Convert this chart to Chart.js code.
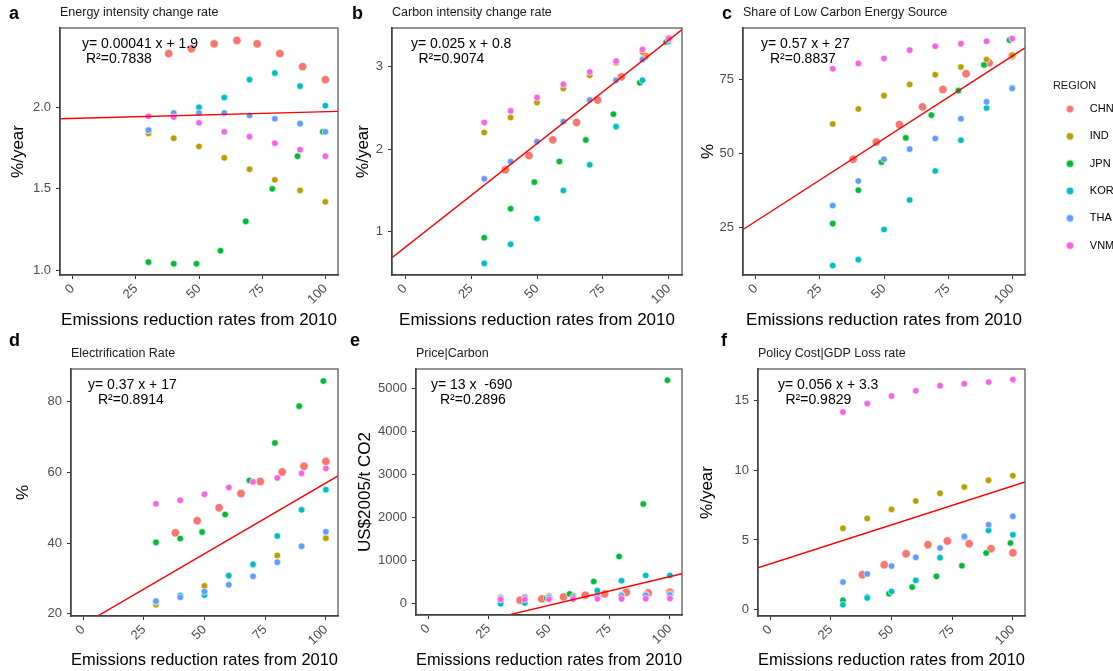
<!DOCTYPE html>
<html><head><meta charset="utf-8">
<script src="https://cdn.jsdelivr.net/npm/chart.js@4.4.1/dist/chart.umd.min.js"></script>
<style>
html,body{margin:0;padding:0;background:#fff;overflow:hidden;}
body{width:1113px;height:671px;position:relative;font-family:"Liberation Sans",Arial,sans-serif;}
.pane{position:absolute;}
.pane canvas{display:block;}
.letter{position:absolute;font-weight:bold;font-size:18px;line-height:1;color:#000;z-index:5;}
</style></head><body>
<div class="pane" style="left:0;top:0"><canvas id="ca" width="345" height="335"></canvas></div>
<div class="pane" style="left:345px;top:0"><canvas id="cb" width="345" height="335"></canvas></div>
<div class="pane" style="left:690px;top:0"><canvas id="cc" width="460" height="335"></canvas></div>
<div class="pane" style="left:0;top:335px"><canvas id="cd" width="345" height="336"></canvas></div>
<div class="pane" style="left:345px;top:335px"><canvas id="ce" width="345" height="336"></canvas></div>
<div class="pane" style="left:690px;top:335px"><canvas id="cf" width="423" height="336"></canvas></div>
<div class="letter" style="left:9px;top:4px">a</div>
<div class="letter" style="left:352px;top:4px">b</div>
<div class="letter" style="left:722px;top:4px">c</div>
<div class="letter" style="left:9px;top:331px">d</div>
<div class="letter" style="left:350px;top:331px">e</div>
<div class="letter" style="left:721px;top:331px">f</div>
<script>
// ---------- categories ----------
const REGIONS = ['CHN','IND','JPN','KOR','THA','VNM'];
const COLORS  = ['#F8766D','#B79F00','#00BA38','#00BFC4','#619CFF','#F564E3'];
// emission reduction rates (x) per region
const xStd = [30,40,50,60,70,80,90,100];
const xCHN = [38,47,56,65,73,82,91,100];
const xJPN = [30,40,49,58.5,68.5,79,89,99];
const xTicks = [0,25,50,75,100];

// ---------- a: Energy intensity change rate ----------
const energyCHN = [2.33,2.36,2.39,2.41,2.39,2.33,2.25,2.17];
const energyIND = [1.84,1.81,1.76,1.69,1.62,1.555,1.49,1.42];
const energyJPN = [1.05,1.04,1.04,1.12,1.30,1.50,1.70,1.85];
const energyKOR = [1.86,1.96,2.00,2.06,2.17,2.21,2.13,2.01];
const energyTHA = [1.86,1.965,1.965,1.965,1.95,1.93,1.90,1.85];
const energyVNM = [1.945,1.94,1.905,1.85,1.82,1.78,1.74,1.70];
const energyFit = [[-5,1.930],[105,1.975]];
const energyTicks = [1.0,1.5,2.0];

// ---------- b: Carbon intensity change rate ----------
const carbonCHN = [1.75,1.92,2.11,2.32,2.59,2.87,3.12,3.33];
const carbonIND = [2.20,2.38,2.56,2.73,2.89,3.04,3.17,3.31];
const carbonJPN = [0.93,1.28,1.60,1.85,2.11,2.42,2.80,3.29];
const carbonKOR = [0.62,0.85,1.16,1.50,1.81,2.27,2.83,3.30];
const carbonTHA = [1.64,1.85,2.09,2.33,2.59,2.83,3.08,3.32];
const carbonVNM = [2.32,2.46,2.62,2.78,2.93,3.06,3.20,3.33];
const carbonFit = [[-5,0.69],[105,3.44]];
const carbonTicks = [1,2,3];

// ---------- c: Share of Low Carbon Energy Source ----------
const lowcCHN = [48.0,53.8,59.7,65.7,71.6,76.9,80.6,83.0];
const lowcIND = [59.9,65.0,69.5,73.3,76.6,79.2,81.7,83.2];
const lowcJPN = [26.2,37.5,47.0,55.2,62.9,71.2,79.9,88.3];
const lowcKOR = [12.0,14.0,24.2,34.2,44.0,54.4,65.3,72.2];
const lowcTHA = [32.3,40.6,48.0,51.4,55.0,61.7,67.4,71.9];
const lowcVNM = [78.6,80.4,82.1,84.9,86.2,87.1,87.9,88.8];
const lowcFit = [[-5,24.2],[105,85.7]];
const lowcTicks = [25,50,75];

// ---------- d: Electrification Rate ----------
const elecCHN = [42.9,46.3,50.0,54.0,57.4,60.1,61.7,63.1];
const elecIND = [22.6,25.1,27.9,30.7,33.8,36.5,39.1,41.4];
const elecJPN = [40.2,41.3,43.1,48.1,57.7,68.3,78.7,85.8];
const elecKOR = [23.4,25.2,25.3,30.8,34.0,42.0,49.4,55.1];
const elecTHA = [23.6,24.7,26.3,28.2,30.6,34.6,39.1,43.2];
const elecVNM = [51.1,52.1,53.8,55.7,57.3,58.4,59.7,61.1];
const elecFit = [[-5,15.0],[105,59.0]];
const elecTicks = [20,40,60,80];

// ---------- e: Price|Carbon ----------
const priceCHN = [84,115,161,200,230,269,253,269];
const priceIND = [150,165,185,195,205,210,215,230];
const priceJPN = [60,90,130,230,520,1100,2320,5200];
const priceKOR = [0,20,160,150,307,538,660,660];
const priceTHA = [130,140,150,160,175,185,195,205];
const priceVNM = [100,100,105,110,115,115,120,125];
const priceFit = [[-5,-770],[105,700]];
const priceTicks = [0,1000,2000,3000,4000,5000];

// ---------- f: Policy Cost|GDP Loss rate ----------
const gdpCHN = [2.51,3.22,4.01,4.66,4.92,4.73,4.37,4.08];
const gdpIND = [5.83,6.54,7.19,7.79,8.34,8.79,9.27,9.60];
const gdpJPN = [0.67,0.91,1.15,1.62,2.39,3.15,4.06,4.78];
const gdpKOR = [0.36,0.84,1.31,2.10,3.73,5.20,5.68,5.37];
const gdpTHA = [1.98,2.56,3.13,3.75,4.42,5.25,6.09,6.69];
const gdpVNM = [14.16,14.78,15.31,15.69,16.05,16.19,16.31,16.50];
const gdpFit = [[-5,3.0],[105,9.15]];
const gdpTicks = [0,5,10,15];

const X_BY_REGION = [xCHN, xStd, xJPN, xStd, xStd, xStd];
const FONT = '"Liberation Sans", Arial, sans-serif';
Chart.defaults.font.family = FONT;

function markerImg(color){
  const c = document.createElement('canvas');
  c.width = 43; c.height = 10;
  const g = c.getContext('2d');
  g.fillStyle = color; g.beginPath(); g.arc(28.7, 5, 3.4, 0, Math.PI*2); g.fill();
  return c;
}
const MARKERS = COLORS.map(markerImg);

function makePanel(p){
  const datasets = REGIONS.map((r,i)=>({
    label: r,
    data: p.series[i].map((v,j)=>({x: X_BY_REGION[i][j], y: v})),
    backgroundColor: COLORS[i],
    borderColor: 'rgba(255,255,255,0.75)',
    borderWidth: 0.8,
    pointRadius: i===0 ? 4.2 : 3.3,
    pointHoverRadius: i===0 ? 4.2 : 3.3,
    order: 6 - i
  }));
  datasets.push({
    label: 'fit', type: 'line',
    data: p.fit.map(([x,y])=>({x,y})),
    borderColor: '#FF0000', borderWidth: 1.4,
    pointRadius: 0, pointHoverRadius: 0, tension: 0, fill: false, order: 0
  });
  const axisCommon = {
    grid: {display: true, drawOnChartArea: false, drawTicks: true, tickLength: 4, color: '#333333', lineWidth: 1},
    border: {display: true, color: '#333333', width: 1.5}
  };
  const decor = {
    id: 'decor',
    afterDraw(chart){
      const {ctx, chartArea: a} = chart;
      ctx.save();
      ctx.strokeStyle = '#4D4D4D'; ctx.lineWidth = 1.2;
      ctx.strokeRect(a.left, a.top, a.right - a.left, a.bottom - a.top);
      ctx.fillStyle = '#1a1a1a'; ctx.textAlign = 'left'; ctx.textBaseline = 'middle';
      ctx.font = '12.5px ' + FONT;
      ctx.fillText(p.title, a.left, a.top - 15.5);
      ctx.fillStyle = '#000';
      ctx.font = '14px ' + FONT;
      ctx.fillText(p.eq, a.left + p.eqDx, a.top + 16);
      ctx.fillText(p.r2, a.left + p.r2Dx, a.top + 31.5);
      ctx.restore();
    }
  };
  const legendOpts = p.legend ? {
    display: true, position: 'right', align: 'start',
    title: {display: true, text: 'REGION', color: '#1a1a1a', font: {family: FONT, size: 11, lineHeight: 0.6}, padding: {top: 52.7, bottom: 0}, position: 'center'},
    labels: {
      usePointStyle: true, pointStyleWidth: 43, boxHeight: 5, padding: 16.3,
      color: '#000', font: {family: FONT, size: 11},
      filter: item => item.datasetIndex < 6,
      sort: (a,b) => a.datasetIndex - b.datasetIndex,
      generateLabels: chart => {
        const items = Chart.defaults.plugins.legend.labels.generateLabels(chart);
        items.forEach(it => { if (it.datasetIndex < 6) it.pointStyle = MARKERS[it.datasetIndex]; });
        return items;
      }
    }
  } : {display: false};
  return new Chart(document.getElementById(p.id), {
    type: 'scatter',
    data: {datasets},
    options: {
      responsive: false, animation: false, events: [],
      layout: {padding: {left: 0, top: p.padTop, right: p.padRight, bottom: 0}},
      plugins: {legend: legendOpts, tooltip: {enabled: false}, title: {display: false}},
      scales: {
        x: Object.assign({
          type: 'linear', min: -5, max: 105,
          afterBuildTicks: s => { s.ticks = xTicks.map(v => ({value: v})); },
          afterFit: s => { s.height = p.xH; },
          ticks: {minRotation: 45, maxRotation: 45, autoSkip: false, color: '#4D4D4D', font: {family: FONT, size: 13}, padding: 2},
          title: {display: true, text: 'Emissions reduction rates from 2010', color: '#000', font: {family: FONT, size: 17}, padding: {top: 0, bottom: p.xTitlePad}}
        }, axisCommon),
        y: Object.assign({
          type: 'linear', min: p.yMin, max: p.yMax,
          afterBuildTicks: s => { s.ticks = p.yTicks.map(v => ({value: v})); },
          afterFit: s => { s.width = p.yW; },
          ticks: {autoSkip: false, color: '#4D4D4D', font: {family: FONT, size: 13}, padding: 5,
                  callback: v => p.dec ? Number(v).toFixed(p.dec) : String(v)},
          title: {display: true, text: p.yTitle, color: '#000', font: {family: FONT, size: 17}, padding: {top: p.yTitlePad, bottom: 0}}
        }, axisCommon)
      }
    },
    plugins: [decor]
  });
}

const panels = [
  {id:'ca', title:'Energy intensity change rate', yTitle:'%/year',
   series:[energyCHN,energyIND,energyJPN,energyKOR,energyTHA,energyVNM], fit:energyFit,
   yMin:0.971, yMax:2.487, yTicks:energyTicks, dec:1,
   eq:'y= 0.00041 x + 1.9', r2:'R²=0.7838', eqDx:22, r2Dx:26,
   yW:60, yTitlePad:7.8, padTop:28, padRight:7, xH:60, xTitlePad:4.8},
  {id:'cb', title:'Carbon intensity change rate', yTitle:'%/year',
   series:[carbonCHN,carbonIND,carbonJPN,carbonKOR,carbonTHA,carbonVNM], fit:carbonFit,
   yMin:0.48, yMax:3.46, yTicks:carbonTicks, dec:0,
   eq:'y= 0.025 x + 0.8', r2:'R²=0.9074', eqDx:19, r2Dx:26.5,
   yW:47, yTitlePad:7.8, padTop:28, padRight:8, xH:60, xTitlePad:4.8},
  {id:'cc', title:'Share of Low Carbon Energy Source', yTitle:'%', legend:true,
   series:[lowcCHN,lowcIND,lowcJPN,lowcKOR,lowcTHA,lowcVNM], fit:lowcFit,
   yMin:8.8, yMax:92.4, yTicks:lowcTicks, dec:0,
   eq:'y= 0.57 x + 27', r2:'R²=0.8837', eqDx:18, r2Dx:27,
   yW:53, yTitlePad:7.8, padTop:28, padRight:0, xH:60, xTitlePad:4.8},
  {id:'cd', title:'Electrification Rate', yTitle:'%',
   series:[elecCHN,elecIND,elecJPN,elecKOR,elecTHA,elecVNM], fit:elecFit,
   yMin:19.4, yMax:89.2, yTicks:elecTicks, dec:0,
   eq:'y= 0.37 x + 17', r2:'R²=0.8914', eqDx:17, r2Dx:27,
   yW:71, yTitlePad:12.8, padTop:34, padRight:7, xH:55, xTitlePad:0},
  {id:'ce', title:'Price|Carbon', yTitle:'US$2005/t CO2',
   series:[priceCHN,priceIND,priceJPN,priceKOR,priceTHA,priceVNM], fit:priceFit,
   yMin:-260, yMax:5460, yTicks:priceTicks, dec:0,
   eq:'y= 13 x  -690', r2:'R²=0.2896', eqDx:15, r2Dx:24,
   yW:71, yTitlePad:9.8, padTop:34, padRight:8, xH:56, xTitlePad:0},
  {id:'cf', title:'Policy Cost|GDP Loss rate', yTitle:'%/year',
   series:[gdpCHN,gdpIND,gdpJPN,gdpKOR,gdpTHA,gdpVNM], fit:gdpFit,
   yMin:-0.45, yMax:17.25, yTicks:gdpTicks, dec:0,
   eq:'y= 0.056 x + 3.3', r2:'R²=0.9829', eqDx:20, r2Dx:27.5,
   yW:68, yTitlePad:6.8, padTop:34, padRight:88, xH:55, xTitlePad:0}
];

const charts = panels.map(makePanel);
// align panel c's plot area right edge (with legend) to x = 335 inside its canvas
const cChart = charts[2];
const diff = cChart.chartArea.right - 335;
if (Math.abs(diff) > 0.3) {
  cChart.options.layout.padding.right = Math.max(0, diff);
  cChart.update();
}
</script>
</body></html>
